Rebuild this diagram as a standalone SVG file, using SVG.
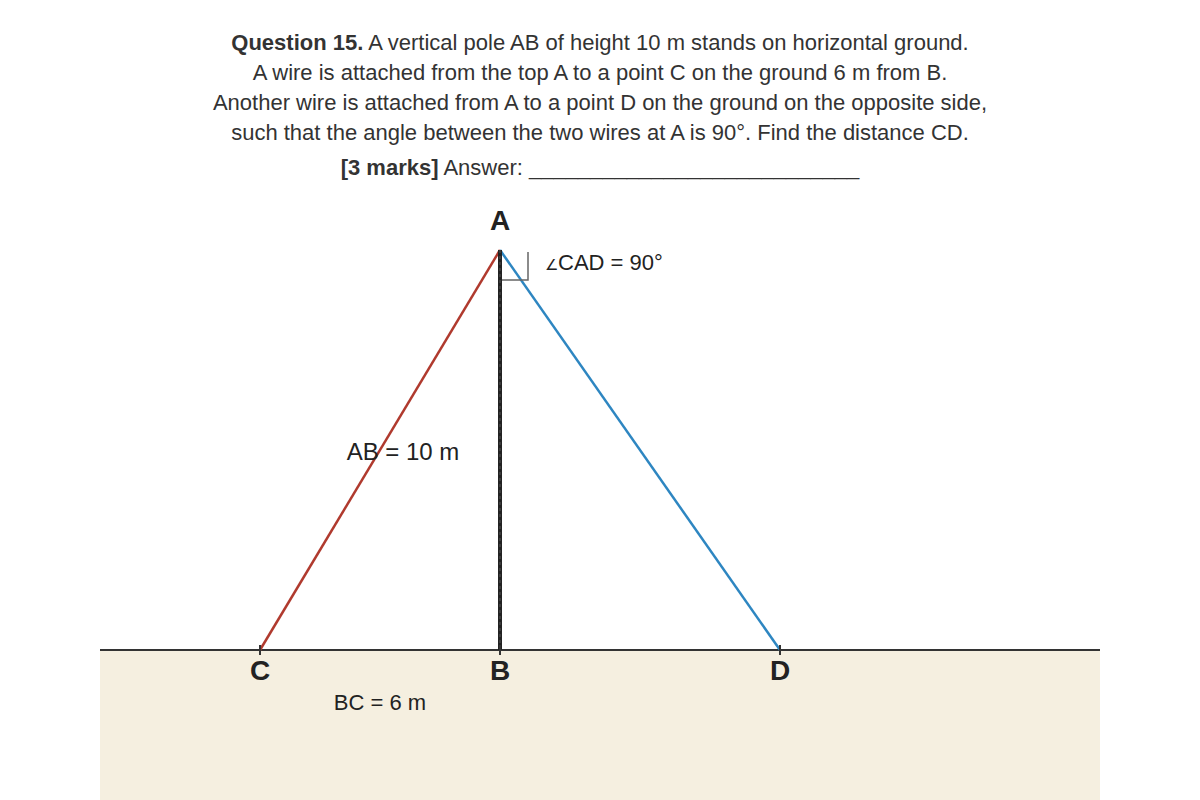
<svg xmlns="http://www.w3.org/2000/svg" width="1200" height="800" viewBox="0 0 1200 800">
<style>
.q{font-family:"Liberation Sans",Arial,sans-serif;font-size:22px;fill:#333;text-anchor:middle}
.pt{font-family:"Liberation Sans",Arial,sans-serif;font-size:28px;font-weight:bold;fill:#222;text-anchor:middle}
.lbl{font-family:"Liberation Sans",Arial,sans-serif;font-size:22px;fill:#222}
.tick{stroke:#333;stroke-width:2}
</style>
<rect width="1200" height="800" fill="#fff"/>
<g id="question">
<text class="q" x="600" y="50"><tspan font-weight="bold">Question 15.</tspan> A vertical pole AB of height 10 m stands on horizontal ground.</text>
<text class="q" x="600" y="80">A wire is attached from the top A to a point C on the ground 6 m from B.</text>
<text class="q" x="600" y="110">Another wire is attached from A to a point D on the ground on the opposite side,</text>
<text class="q" x="600" y="140">such that the angle between the two wires at A is 90°. Find the distance CD.</text>
<text class="q" x="600" y="175"><tspan font-weight="bold">[3 marks]</tspan> Answer: ___________________________</text>
</g>
<g id="ground">
<rect x="100" y="650" width="1000" height="150" fill="#F5EFE0"/>
<line x1="100" y1="650" x2="1100" y2="650" stroke="#333" stroke-width="2"/>
</g>
<g id="connectors">
<line id="wire-AC" x1="500" y1="250" x2="260" y2="650" stroke="#B03A2E" stroke-width="2.5"/>
<line id="wire-AD" x1="500" y1="250" x2="780" y2="650" stroke="#2E86C1" stroke-width="2.5"/>
<line id="pole-AB" x1="500" y1="250" x2="500" y2="650" stroke="#222" stroke-width="4"/>
<line x1="500" y1="250" x2="500" y2="650" stroke="#555" stroke-width="1" stroke-dasharray="3,3"/>
<polyline points="528,252 528,280 502,280" fill="none" stroke="#666" stroke-width="1.5"/>
</g>
<g id="node-A"><text class="pt" x="500" y="230">A</text></g>
<g id="node-C"><line class="tick" x1="260" y1="645" x2="260" y2="655"/><text class="pt" x="260" y="680">C</text></g>
<g id="node-B"><line class="tick" x1="500" y1="645" x2="500" y2="655"/><text class="pt" x="500" y="680">B</text></g>
<g id="node-D"><line class="tick" x1="780" y1="645" x2="780" y2="655"/><text class="pt" x="780" y="680">D</text></g>
<g id="labels">
<text class="lbl" x="403" y="460" text-anchor="middle" style="font-size:24px">AB = 10 m</text>
<text class="lbl" x="380" y="710" text-anchor="middle">BC = 6 m</text>
<text class="lbl" x="545" y="270"><tspan font-size="15">∠</tspan>CAD = 90°</text>
</g>
</svg>
